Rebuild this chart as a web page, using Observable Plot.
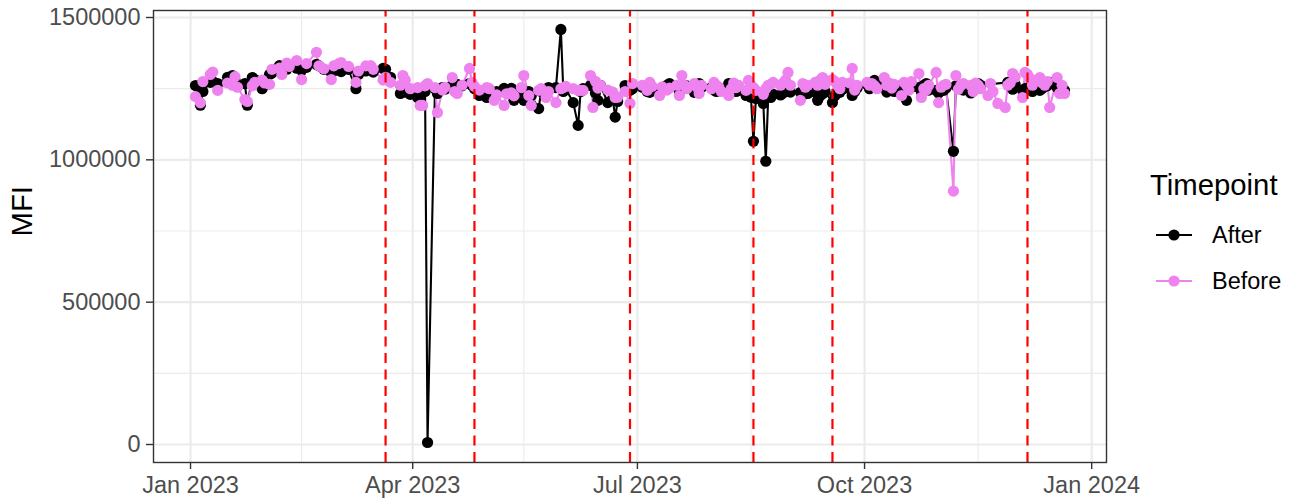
<!DOCTYPE html>
<html><head><meta charset="utf-8">
<script src="https://cdn.jsdelivr.net/npm/d3@7"></script>
<script src="https://cdn.jsdelivr.net/npm/@observablehq/plot@0.6"></script>
<style>
body{margin:0;background:#fff;font-family:"Liberation Sans",Arial,sans-serif;}
#wrap{position:relative;width:1295px;height:499px;}
#legend{position:absolute;left:1140px;top:160px;}
</style></head><body><div id="wrap"></div>
<script>
const dates = [
"2023-01-03","2023-01-05","2023-01-06","2023-01-09","2023-01-10","2023-01-12","2023-01-16","2023-01-18","2023-01-19","2023-01-20",
"2023-01-23","2023-01-24","2023-01-26","2023-01-27","2023-01-30","2023-01-31","2023-02-02","2023-02-03","2023-02-06","2023-02-07",
"2023-02-09","2023-02-10","2023-02-13","2023-02-15","2023-02-17","2023-02-21","2023-02-22","2023-02-24","2023-02-27","2023-02-28",
"2023-03-02","2023-03-03","2023-03-06","2023-03-09","2023-03-10","2023-03-13","2023-03-15","2023-03-16","2023-03-20","2023-03-21",
"2023-03-23","2023-03-27","2023-03-28","2023-03-29","2023-03-31","2023-04-03","2023-04-04","2023-04-05","2023-04-06","2023-04-07",
"2023-04-10","2023-04-11","2023-04-13","2023-04-14","2023-04-17","2023-04-18","2023-04-19","2023-04-21","2023-04-24","2023-04-25",
"2023-04-26","2023-04-28","2023-05-01","2023-05-02","2023-05-04","2023-05-05","2023-05-08","2023-05-09","2023-05-11","2023-05-12",
"2023-05-15","2023-05-16","2023-05-18","2023-05-19","2023-05-22","2023-05-23","2023-05-25","2023-05-26","2023-05-29","2023-05-31",
"2023-06-01","2023-06-02","2023-06-05","2023-06-07","2023-06-08","2023-06-09","2023-06-12","2023-06-13","2023-06-14","2023-06-15",
"2023-06-16","2023-06-19","2023-06-21","2023-06-22","2023-06-23","2023-06-26","2023-06-28","2023-06-29","2023-07-03","2023-07-05",
"2023-07-06","2023-07-07","2023-07-10","2023-07-11","2023-07-13","2023-07-14","2023-07-17","2023-07-18","2023-07-19","2023-07-20",
"2023-07-21","2023-07-24","2023-07-25","2023-07-26","2023-07-27","2023-07-31","2023-08-01","2023-08-02","2023-08-03","2023-08-04",
"2023-08-07","2023-08-08","2023-08-09","2023-08-10","2023-08-11","2023-08-14","2023-08-15","2023-08-16","2023-08-17","2023-08-18",
"2023-08-21","2023-08-22","2023-08-23","2023-08-24","2023-08-25","2023-08-28","2023-08-29","2023-08-30","2023-08-31","2023-09-01",
"2023-09-05","2023-09-06","2023-09-07","2023-09-08","2023-09-11","2023-09-12","2023-09-13","2023-09-14","2023-09-15","2023-09-18",
"2023-09-19","2023-09-20","2023-09-21","2023-09-22","2023-09-25","2023-09-26","2023-09-27","2023-09-28","2023-10-02","2023-10-03",
"2023-10-04","2023-10-05","2023-10-06","2023-10-09","2023-10-10","2023-10-11","2023-10-12","2023-10-13","2023-10-16","2023-10-17",
"2023-10-18","2023-10-19","2023-10-20","2023-10-23","2023-10-24","2023-10-25","2023-10-26","2023-10-27","2023-10-30","2023-10-31",
"2023-11-01","2023-11-02","2023-11-03","2023-11-06","2023-11-07","2023-11-08","2023-11-09","2023-11-10","2023-11-13","2023-11-14",
"2023-11-15","2023-11-16","2023-11-17","2023-11-20","2023-11-21","2023-11-22","2023-11-24","2023-11-27","2023-11-28","2023-11-29",
"2023-11-30","2023-12-01","2023-12-04","2023-12-05","2023-12-06","2023-12-07","2023-12-08","2023-12-11","2023-12-12","2023-12-13",
"2023-12-14","2023-12-15","2023-12-18","2023-12-19","2023-12-20","2023-12-21"
];
const after = [
1261000,1192000,1240000,1272000,1275000,1268000,1290000,1296000,1280000,1262000,
1268000,1192000,1289000,1282000,1250000,1262000,1300000,1305000,1331000,1320000,
1318000,1330000,1322000,1315000,1325000,1335000,1330000,1318000,1307000,1312000,
1320000,1310000,1318000,1250000,1300000,1312000,1320000,1308000,1321000,1318000,
1290000,1233000,1244000,1238000,1230000,1219000,1216000,1245000,1240000,7000,
1250000,1233000,1254000,1248000,1262000,1256000,1265000,1260000,1268000,1262000,
1250000,1226000,1219000,1232000,1237000,1240000,1251000,1245000,1251000,1209000,
1240000,1209000,1240000,1225000,1180000,1240000,1232000,1254000,1254000,1458000,
1240000,1250000,1201000,1121000,1240000,1250000,1261000,1265000,1235000,1209000,
1262000,1201000,1215000,1150000,1205000,1261000,1244000,1250000,1255000,1240000,
1237000,1248000,1245000,1250000,1262000,1268000,1258000,1240000,1250000,1251000,
1260000,1237000,1245000,1268000,1255000,1254000,1245000,1240000,1244000,1250000,
1268000,1262000,1245000,1240000,1244000,1226000,1230000,1220000,1065000,1215000,
1198000,995000,1225000,1219000,1230000,1228000,1235000,1240000,1245000,1238000,
1237000,1240000,1232000,1233000,1238000,1209000,1225000,1232000,1240000,1201000,
1225000,1240000,1237000,1248000,1250000,1226000,1240000,1252000,1265000,1250000,
1254000,1279000,1262000,1255000,1238000,1250000,1245000,1240000,1262000,1255000,
1209000,1250000,1255000,1254000,1240000,1262000,1268000,1245000,1244000,1235000,
1250000,1244000,1252000,1030000,1260000,1255000,1250000,1245000,1235000,1250000,
1262000,1268000,1262000,null,null,null,null,null,1272000,1260000,
1248000,1265000,1244000,1250000,1252000,1258000,1240000,1244000,1251000,1268000,
1260000,1272000,1254000,1262000,1250000,1244000
];
const before = [
1222000,1200000,1275000,1300000,1308000,1244000,1270000,1262000,1292000,1255000,
1212000,1205000,1260000,1272000,1280000,1270000,1265000,1318000,1322000,1300000,
1340000,1328000,1349000,1282000,1338000,1378000,1330000,1320000,1282000,1330000,
1338000,1342000,1328000,1272000,1312000,1330000,1331000,1318000,1280000,1290000,
1272000,1262000,1296000,1280000,1250000,1254000,1191000,1191000,1260000,1268000,
1254000,1166000,1245000,1255000,1289000,1240000,1233000,1262000,1321000,1272000,
1258000,1245000,1254000,1250000,1209000,1228000,1191000,1232000,1235000,1225000,
1254000,1296000,1226000,1191000,1244000,1250000,1219000,1240000,1201000,1250000,
1254000,1258000,1250000,1244000,1244000,1244000,1296000,1184000,1276000,1252000,
1262000,1245000,1238000,1219000,1220000,1240000,1198000,1268000,1262000,1244000,
1272000,1258000,1226000,1256000,1245000,1252000,1262000,1226000,1296000,1262000,
1250000,1268000,1256000,1233000,1262000,1250000,1272000,1262000,1255000,1240000,
1226000,1250000,1270000,1254000,1262000,1244000,1279000,1262000,1254000,1244000,
1230000,1250000,1262000,1265000,1272000,1262000,1270000,1280000,1307000,1262000,
1209000,1268000,1255000,1262000,1272000,1262000,1280000,1289000,1265000,1282000,
1275000,1262000,1250000,1272000,1270000,1321000,1245000,1262000,1272000,1262000,
1268000,1260000,1250000,1289000,1262000,1270000,1252000,1265000,1226000,1272000,
1262000,1245000,1275000,1303000,1219000,1250000,1245000,1262000,1307000,1201000,
1255000,1262000,1265000,890000,1296000,1248000,1262000,1268000,1262000,1240000,
1270000,1262000,1250000,1226000,1268000,1240000,1198000,1184000,1262000,1270000,
1303000,1290000,1219000,1307000,1300000,1286000,1262000,1289000,1270000,1262000,
1275000,1184000,1289000,1233000,1262000,1233000
];
const seriesNames = ["After","Before"];
const seriesColors = ["#000000","#EE82EE"];
const vlineDates = ["2023-03-21","2023-04-26","2023-06-28","2023-08-17","2023-09-18","2023-12-06"];
const yTicks = [0,500000,1000000,1500000];
const yMinor = [250000,750000,1250000];
const xTicks = ["2023-01-01","2023-04-01","2023-07-01","2023-10-01","2024-01-01"];
const xTickLabels = ["Jan 2023","Apr 2023","Jul 2023","Oct 2023","Jan 2024"];
const xMinor = ["2023-02-15","2023-05-16","2023-08-16","2023-11-16"];
const yTitle = "MFI";
const legendTitle = "Timepoint";

const parse = d3.utcParse("%Y-%m-%d");
const rows = [];
dates.forEach((d,i)=>{ if(after[i]!=null) rows.push({date:parse(d), mfi:after[i], tp:"After"}); });
dates.forEach((d,i)=>{ if(before[i]!=null) rows.push({date:parse(d), mfi:before[i], tp:"Before"}); });
const xTickDates = xTicks.map(parse);
const labelMap = new Map(xTickDates.map((d,i)=>[+d, xTickLabels[i]]));
const yLo = -63200, yHi = 1524600;
const FONT = "'Liberation Sans', Arial, sans-serif";

const plot = Plot.plot({
  width:1295, height:499,
  marginLeft:153, marginRight:189, marginTop:10, marginBottom:37,
  style:{fontFamily:FONT, fontSize:"23.5px", background:"#fff", color:"#000"},
  x:{type:"utc", domain:[parse("2022-12-17"), parse("2024-01-07")]},
  y:{domain:[yLo, yHi]},
  color:{domain:seriesNames, range:seriesColors},
  marks:[
    Plot.ruleY(yMinor,{stroke:"#EBEBEB",strokeWidth:1.1}),
    Plot.ruleX(xMinor.map(parse),{stroke:"#EBEBEB",strokeWidth:1.1}),
    Plot.ruleY(yTicks,{stroke:"#EBEBEB",strokeWidth:2.2}),
    Plot.ruleX(xTickDates,{stroke:"#EBEBEB",strokeWidth:2.2}),
    Plot.line(rows,{x:"date",y:"mfi",z:"tp",stroke:"tp",strokeWidth:2.1}),
    Plot.dot(rows,{x:"date",y:"mfi",fill:"tp",r:5.6}),
    Plot.ruleX(vlineDates.map(parse),{y1:yLo,y2:yHi,stroke:"#FF0000",strokeWidth:2.2,strokeDasharray:"10,6.5"}),
    Plot.frame({stroke:"#333333",strokeWidth:1.4}),
    Plot.axisY(yTicks,{tickSize:7,tickPadding:6,tickFormat:d=>String(d),fill:"#4D4D4D",stroke:"#333333",strokeWidth:1.4,fontSize:23.5,label:null}),
    Plot.axisX(xTickDates,{tickSize:7,tickPadding:7,tickFormat:d=>labelMap.get(+d),fill:"#4D4D4D",stroke:"#333333",strokeWidth:1.4,fontSize:23.5,label:null}),
    Plot.text([yTitle],{frameAnchor:"left",dx:-131,rotate:-90,fontSize:29.3,fill:"#000"})
  ]
});
document.getElementById("wrap").appendChild(plot);

// legend
const lg = d3.select("#wrap").append("svg").attr("id","legend").attr("width",155).attr("height",150)
  .style("font-family",FONT);
lg.append("text").attr("x",10).attr("y",34.5).attr("font-size",29.3).attr("fill","#000").text(legendTitle);
seriesNames.forEach((s,i)=>{
  const cy = 75 + i*46;
  lg.append("line").attr("x1",16).attr("x2",52).attr("y1",cy).attr("y2",cy).attr("stroke",seriesColors[i]).attr("stroke-width",2.1);
  lg.append("circle").attr("cx",34).attr("cy",cy).attr("r",5.6).attr("fill",seriesColors[i]);
  lg.append("text").attr("x",72).attr("y",cy+8.4).attr("font-size",23.5).attr("fill","#000").text(s);
});
</script></body></html>
